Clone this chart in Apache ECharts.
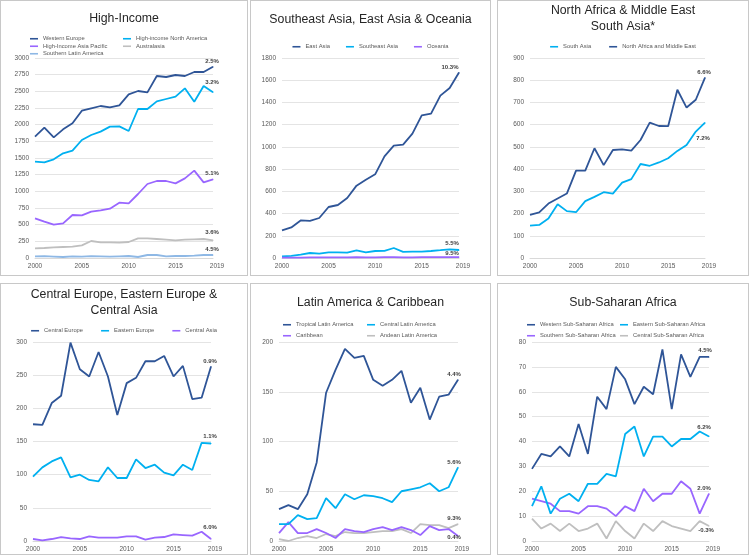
<!DOCTYPE html>
<html>
<head>
<meta charset="utf-8">
<script src="https://cdn.jsdelivr.net/npm/echarts@6/dist/echarts.min.js"></script>
<style>
  body { margin: 0; width: 749px; height: 555px; background: #fff; position: relative; overflow: hidden; }
  .panel { position: absolute; box-sizing: border-box; border: 1px solid #C8C8C8; background: #fff; }
</style>
</head>
<body>
<div id="p1" class="panel" style="left:0;top:0;width:248px;height:276px"></div>
<div id="p2" class="panel" style="left:250px;top:0;width:241px;height:276px"></div>
<div id="p3" class="panel" style="left:497px;top:0;width:252px;height:276px"></div>
<div id="p4" class="panel" style="left:0;top:283px;width:248px;height:272px"></div>
<div id="p5" class="panel" style="left:250px;top:283px;width:241px;height:272px"></div>
<div id="p6" class="panel" style="left:497px;top:283px;width:252px;height:272px"></div>
<script>
const years = ['2000', '2001', '2002', '2003', '2004', '2005', '2006', '2007', '2008', '2009',
  '2010', '2011', '2012', '2013', '2014', '2015', '2016', '2017', '2018', '2019'];

// High-Income
const westernEurope = [1820, 1955, 1810, 1930, 2020, 2210, 2245, 2280, 2260, 2290, 2455, 2505, 2485, 2730, 2715, 2745, 2730, 2790, 2790, 2870];
const northAmerica = [1445, 1435, 1480, 1570, 1610, 1770, 1845, 1895, 1970, 1975, 1905, 2235, 2235, 2350, 2385, 2420, 2545, 2345, 2580, 2485];
const asiaPacific = [595, 545, 500, 520, 645, 640, 695, 715, 740, 830, 820, 960, 1110, 1155, 1155, 1120, 1195, 1310, 1135, 1180];
const australasia = [145, 150, 160, 165, 170, 190, 255, 235, 235, 230, 240, 295, 295, 285, 275, 265, 275, 280, 285, 265];
const southernLatAm = [25, 28, 22, 15, 25, 20, 28, 25, 20, 25, 30, 15, 45, 45, 25, 30, 30, 35, 45, 45];
const highIncomeGrowth = ['2.5%', '3.2%', '5.1%', '3.6%', '4.5%'];

// Southeast Asia, East Asia & Oceania
const eastAsia = [248, 275, 338, 335, 360, 459, 477, 540, 651, 705, 753, 915, 1011, 1020, 1119, 1283, 1299, 1461, 1530, 1670];
const southeastAsia = [15, 20, 30, 45, 40, 50, 50, 48, 68, 50, 63, 65, 90, 55, 58, 58, 63, 70, 78, 72];
const oceania = [3, 4, 4, 5, 5, 6, 6, 6, 7, 6, 6, 7, 7, 6, 6, 7, 7, 7, 8, 8];
const seAsiaGrowth = ['10.3%', '5.5%', '9.5%'];

// North Africa & Middle East, South Asia
const southAsia = [146, 149, 178, 242, 211, 206, 256, 275, 296, 290, 339, 355, 423, 415, 430, 449, 482, 509, 569, 609];
const northAfricaME = [194, 205, 245, 268, 290, 393, 393, 494, 418, 486, 489, 483, 531, 609, 594, 593, 757, 677, 712, 812];
const nameGrowth = ['7.2%', '6.6%'];

// Central Europe, Eastern Europe & Central Asia
const centralEurope = [176, 175, 208, 219, 299, 259, 248, 285, 248, 190, 238, 246, 271, 271, 279, 248, 264, 214, 216, 263];
const easternEurope = [97, 111, 120, 126, 96, 100, 92, 90, 111, 95, 95, 123, 110, 115, 103, 99, 115, 107, 148, 147];
const centralAsia = [3, 1, 3, 6, 4, 3, 7, 5, 5, 5, 7, 7, 2, 5, 6, 10, 9, 8, 14, 3];
const ceGrowth = ['0.9%', '1.1%', '6.0%'];

// Latin America & Caribbean
const tropicalLatAm = [32, 36, 32, 47, 79, 149, 172, 193, 184, 186, 162, 156, 162, 171, 139, 154, 122, 145, 147, 162];
const centralLatAm = [17, 17, 26, 22, 23, 43, 33, 47, 42, 46, 45, 43, 39, 50, 52, 54, 58, 50, 54, 74];
const caribbean = [8, 19, 8, 8, 12, 8, 3, 12, 10, 9, 12, 14, 11, 14, 11, 6, 15, 11, 12, 5];
const andeanLatAm = [2, 0, 3, 5, 3, 7, 5, 9, 8, 8, 9, 10, 10, 12, 8, 17, 16, 16, 13, 17];
const latAmGrowth = ['4.4%', '5.6%', '0.4%', '9.3%'];

// Sub-Saharan Africa
const westernSSA = [29, 35, 34, 38, 34, 47, 35, 58, 53, 70, 65, 55, 62, 59, 77, 53, 75, 66, 74, 74];
const easternSSA = [14, 22, 11, 17, 19, 16, 23, 23, 27, 26, 43, 46, 34, 42, 42, 38, 41, 41, 44, 42];
const southernSSA = [17, 16, 15, 12, 12, 11, 14, 14, 13, 10, 14, 12, 21, 16, 19, 19, 24, 21, 11, 19];
const centralSSA = [9, 5, 7, 4, 7, 4, 5, 7, 1, 8, 4, 1, 7, 4, 8, 6, 5, 4, 8, 6];
const ssaGrowth = ['4.5%', '6.2%', '2.0%', '-0.3%'];

const FONT = '"Liberation Sans", Arial, sans-serif';
const DARK = '#2F5597', LIGHT = '#00B0F0', PURPLE = '#9966FF', GRAY = '#BFBFBF', PALE = '#8EB8E5';

// one chart per panel
const makePanel = (id, cfg) => {
  const chart = echarts.init(document.getElementById(id));
  const series = cfg.series.map(s => {
    const last = s.data.length - 1;
    return {
      type: 'line',
      name: s.name,
      symbol: 'none',
      lineStyle: { width: 1.8, color: s.color },
      itemStyle: { color: s.color },
      data: s.data.map((v, i) => i !== last ? v : {
        value: v,
        symbol: 'circle',
        symbolSize: 1,
        label: {
          show: true,
          formatter: s.growth,
          position: s.pos || 'top',
          distance: 2,
          offset: s.off || [0, 0],
          fontSize: 6,
          fontWeight: 'bold',
          color: '#404040',
          fontFamily: FONT
        }
      })
    };
  });
  chart.setOption({
    animation: false,
    title: {
      text: cfg.title,
      left: 'center',
      top: cfg.titleTop,
      padding: 0,
      textStyle: { fontFamily: FONT, fontSize: 12.3, fontWeight: 'normal', color: '#262626', lineHeight: 16 }
    },
    legend: cfg.legends.map(l => Object.assign({
      icon: 'rect',
      itemWidth: 8,
      itemHeight: 1.6,
      itemGap: 0,
      padding: 0,
      textStyle: { fontSize: 5.8, color: '#595959', fontFamily: FONT, lineHeight: 7.5 }
    }, l)),
    grid: cfg.grid,
    xAxis: {
      type: 'category',
      data: years,
      boundaryGap: false,
      axisTick: { show: false },
      axisLine: { lineStyle: { color: '#D9D9D9' } },
      axisLabel: {
        interval: (i) => i % 5 === 0 || i === years.length - 1,
        formatter: (v, i) => i === years.length - 1 ? '{e|' + v + '}' : v,
        rich: { e: { padding: [0, 0, 0, 8], fontSize: 6.5, color: '#595959', fontFamily: FONT } },
        fontSize: 6.5,
        color: '#595959',
        fontFamily: FONT,
        margin: 5
      }
    },
    yAxis: {
      type: 'value',
      min: 0,
      max: cfg.yMax,
      interval: cfg.yStep,
      axisLabel: { formatter: (v) => String(v), fontSize: 6.5, color: '#595959', fontFamily: FONT, margin: 6 },
      splitLine: { lineStyle: { color: '#E4E4E4' } }
    },
    series
  });
};

makePanel('p1', {
  title: 'High-Income',
  titleTop: 10,
  grid: { left: 34, right: 34, top: 57, bottom: 17 },
  yMax: 3000, yStep: 250,
  legends: [
    { orient: 'vertical', left: 29, top: 34, data: ['Western Europe', 'High-Income Asia Pacific', 'Southern Latin America'] },
    { orient: 'vertical', left: 122, top: 34, data: ['High-income North America', 'Australasia'] }
  ],
  series: [
    { name: 'Western Europe', data: westernEurope, color: DARK, growth: highIncomeGrowth[0], off: [-1, 0] },
    { name: 'High-income North America', data: northAmerica, color: LIGHT, growth: highIncomeGrowth[1], off: [-1, -4] },
    { name: 'High-Income Asia Pacific', data: asiaPacific, color: PURPLE, growth: highIncomeGrowth[2], off: [-1, 0] },
    { name: 'Australasia', data: australasia, color: GRAY, growth: highIncomeGrowth[3], off: [-1, -2] },
    { name: 'Southern Latin America', data: southernLatAm, color: PALE, growth: highIncomeGrowth[4], off: [-1, 0] }
  ]
});

makePanel('p2', {
  title: 'Southeast Asia, East Asia & Oceania',
  titleTop: 11,
  grid: { left: 31, right: 31, top: 57, bottom: 17 },
  yMax: 1800, yStep: 200,
  legends: [
    { left: 'center', top: 42, itemGap: 16, data: ['East Asia', 'Southeast Asia', 'Oceania'] }
  ],
  series: [
    { name: 'East Asia', data: eastAsia, color: DARK, growth: seAsiaGrowth[0], off: [-9, 0] },
    { name: 'Southeast Asia', data: southeastAsia, color: LIGHT, growth: seAsiaGrowth[1], off: [-7, -1] },
    { name: 'Oceania', data: oceania, color: PURPLE, growth: seAsiaGrowth[2], off: [-7, 2] }
  ]
});

makePanel('p3', {
  title: 'North Africa & Middle East\nSouth Asia*',
  titleTop: 2,
  grid: { left: 32, right: 43, top: 57, bottom: 17 },
  yMax: 900, yStep: 100,
  legends: [
    { left: 'center', top: 42, itemGap: 18, data: ['South Asia', 'North Africa and Middle East'] }
  ],
  series: [
    { name: 'South Asia', data: southAsia, color: LIGHT, growth: nameGrowth[0], pos: 'bottom', off: [-2, 10] },
    { name: 'North Africa and Middle East', data: northAfricaME, color: DARK, growth: nameGrowth[1], off: [-1, 0] }
  ]
});

makePanel('p4', {
  title: 'Central Europe, Eastern Europe &\nCentral Asia',
  titleTop: 3,
  grid: { left: 32, right: 36, top: 58, bottom: 13 },
  yMax: 300, yStep: 50,
  legends: [
    { left: 'center', top: 43, itemGap: 18, data: ['Central Europe', 'Eastern Europe', 'Central Asia'] }
  ],
  series: [
    { name: 'Central Europe', data: centralEurope, color: DARK, growth: ceGrowth[0], off: [-1, 0] },
    { name: 'Eastern Europe', data: easternEurope, color: LIGHT, growth: ceGrowth[1], off: [-1, -2] },
    { name: 'Central Asia', data: centralAsia, color: PURPLE, growth: ceGrowth[2], off: [-1, -6] }
  ]
});

makePanel('p5', {
  title: 'Latin America & Caribbean',
  titleTop: 11,
  grid: { left: 28, right: 32, top: 58, bottom: 13 },
  yMax: 200, yStep: 50,
  legends: [
    { orient: 'vertical', left: 32, top: 37, itemGap: 3.5, data: ['Tropical Latin America', 'Caribbean'] },
    { orient: 'vertical', left: 116, top: 37, itemGap: 3.5, data: ['Central Latin America', 'Andean Latin America'] }
  ],
  series: [
    { name: 'Andean Latin America', data: andeanLatAm, color: GRAY, growth: latAmGrowth[3], off: [-4, 0] },
    { name: 'Caribbean', data: caribbean, color: PURPLE, growth: latAmGrowth[2], pos: 'bottom', off: [-4, -4] },
    { name: 'Central Latin America', data: centralLatAm, color: LIGHT, growth: latAmGrowth[1], off: [-4, 0] },
    { name: 'Tropical Latin America', data: tropicalLatAm, color: DARK, growth: latAmGrowth[0], off: [-4, 0] }
  ]
});

makePanel('p6', {
  title: 'Sub-Saharan Africa',
  titleTop: 11,
  grid: { left: 34, right: 39, top: 58, bottom: 13 },
  yMax: 80, yStep: 10,
  legends: [
    { orient: 'vertical', left: 29, top: 37, itemGap: 3.5, data: ['Western Sub-Saharan Africa', 'Southern Sub-Saharan Africa'] },
    { orient: 'vertical', left: 122, top: 37, itemGap: 3.5, data: ['Eastern Sub-Saharan Africa', 'Central Sub-Saharan Africa'] }
  ],
  series: [
    { name: 'Central Sub-Saharan Africa', data: centralSSA, color: GRAY, growth: ssaGrowth[3], pos: 'bottom', off: [-3, -1] },
    { name: 'Southern Sub-Saharan Africa', data: southernSSA, color: PURPLE, growth: ssaGrowth[2], off: [-5, 0] },
    { name: 'Eastern Sub-Saharan Africa', data: easternSSA, color: LIGHT, growth: ssaGrowth[1], off: [-5, -4] },
    { name: 'Western Sub-Saharan Africa', data: westernSSA, color: DARK, growth: ssaGrowth[0], off: [-4, -1] }
  ]
});
</script>
</body>
</html>
